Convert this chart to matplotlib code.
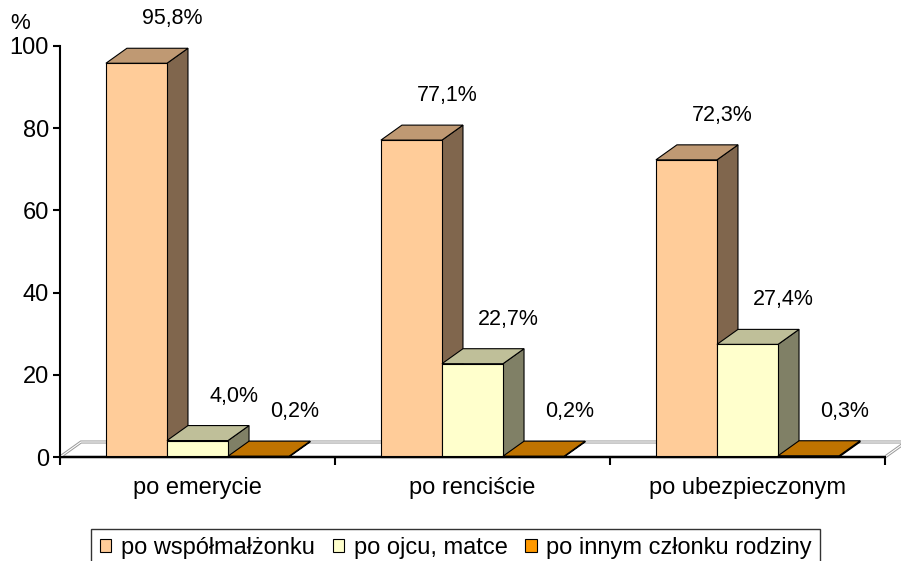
import matplotlib.pyplot as plt
from matplotlib.patches import Polygon
from matplotlib.colors import to_rgb

plt.rcParams['font.family'] = ['Liberation Sans', 'DejaVu Sans']

categories = ['po emerycie', 'po renciście', 'po ubezpieczonym']
series = ['po współmałżonku', 'po ojcu, matce', 'po innym członku rodziny']
values = [
    [95.8, 77.1, 72.3],   # po współmałżonku
    [4.0, 22.7, 27.4],    # po ojcu, matce
    [0.2, 0.2, 0.3],      # po innym członku rodziny
]
labels = [
    ['95,8%', '77,1%', '72,3%'],
    ['4,0%', '22,7%', '27,4%'],
    ['0,2%', '0,2%', '0,3%'],
]
colors = ['#FFCC99', '#FFFFCC', '#FF9900']


def shade(c, f):
    r, g, b = to_rgb(c)
    return (r * f, g * f, b * f)


fig = plt.figure(figsize=(9.01, 5.61), dpi=100)
ax = fig.add_axes([60 / 901, 104 / 561, 825 / 901, 411 / 561])
ax.set_xlim(-0.5, 2.5)
ax.set_ylim(0, 100)

# depth of the 3d effect in data units (about 21 px right, 15 px up)
dx = 21 / 825 * 3
dy = 15 / 411 * 100
bw = 0.222

# floor
floor_pts = [(-0.5, 0), (2.5, 0), (2.5 + dx, dy), (-0.5 + dx, dy)]
ax.add_patch(Polygon(floor_pts, closed=True, facecolor='white', edgecolor='#999999',
                     lw=2.2, clip_on=False, zorder=1))
ax.add_patch(Polygon(floor_pts, closed=True, facecolor='none', edgecolor='white',
                     lw=0.8, clip_on=False, zorder=1))

z = 2
for ci in range(len(categories)):
    for si in range(len(series)):
        v = values[si][ci]
        x0 = ci - 1.5 * bw + si * bw
        x1 = x0 + bw
        c = colors[si]
        front = [(x0, 0), (x1, 0), (x1, v), (x0, v)]
        top = [(x0, v), (x1, v), (x1 + dx, v + dy), (x0 + dx, v + dy)]
        side = [(x1, 0), (x1 + dx, dy), (x1 + dx, v + dy), (x1, v)]
        for pts, col in [(side, shade(c, 0.5)), (top, shade(c, 0.75)),
                         (front, c)]:
            ax.add_patch(Polygon(pts, closed=True, facecolor=col,
                                 edgecolor='black', lw=0.8, zorder=z,
                                 clip_on=False))
        ax.annotate(labels[si][ci], xy=(x0 + bw / 2, v), xytext=(26, 32),
                    textcoords='offset points', ha='center', va='center',
                    fontsize=15.5, zorder=10)
        z += 1

ax.set_yticks(range(0, 101, 20))
ax.tick_params(axis='y', labelsize=17, length=5, width=1.5, direction='out', pad=3)
ax.set_xticks([-0.5, 0.5, 1.5, 2.5])
ax.set_xticklabels([])
ax.tick_params(axis='x', length=6, width=1.5, direction='out')
for i, cat in enumerate(categories):
    ax.text(i, -4.8, cat, ha='center', va='top', fontsize=17)

for s in ['top', 'right']:
    ax.spines[s].set_visible(False)
for s in ['left', 'bottom']:
    ax.spines[s].set_linewidth(1.5)
    ax.spines[s].set_zorder(20)

ax.text(-0.645, 102.8, '%', ha='center', va='bottom', fontsize=16)

handles = [Polygon([(0, 0)], closed=True, facecolor=c, edgecolor='black', lw=0.8)
           for c in colors]
fig.legend(handles, series, loc='upper center', bbox_to_anchor=(0.506, 1 - 529 / 561),
           ncol=3, fontsize=17, frameon=True, fancybox=False, edgecolor='black',
           handlelength=0.47, handleheight=0.47, handletextpad=0.42,
           columnspacing=0.76, borderpad=0.35, borderaxespad=0)

fig.savefig('out.png', dpi=100)
